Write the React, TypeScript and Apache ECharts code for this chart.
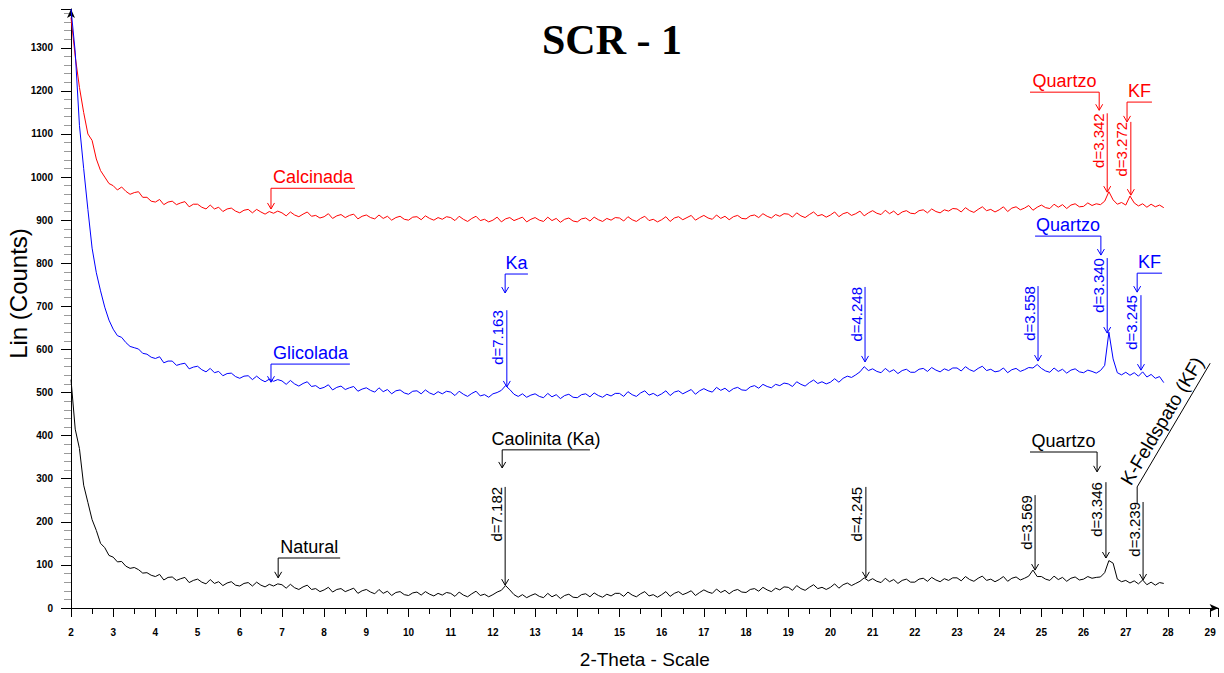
import React, { useEffect, useRef } from 'react';
import * as echarts from 'echarts';

// 2-Theta scan grid (degrees)
const THETA_START = 2.0;
const THETA_STEP = 0.1;

// Lin (Counts), one value per 0.1° from 2.0° to 27.9°
const calcinada = [
  1370, 1280, 1208, 1150, 1100, 1085, 1042, 1015, 1000, 985,
  980, 970, 977, 967, 960, 964, 966, 953, 953, 944,
  942, 948, 936, 942, 944, 936, 940, 943, 931, 937,
  937, 930, 926, 935, 926, 930, 920, 926, 928, 921,
  917, 923, 925, 917, 925, 919, 914, 920, 916, 921,
  917, 910, 919, 912, 908, 914, 919, 909, 911, 905,
  908, 915, 904, 910, 913, 906, 911, 914, 903, 909,
  912, 906, 903, 912, 904, 909, 900, 906, 909, 902,
  900, 907, 908, 901, 910, 904, 900, 906, 902, 908,
  906, 899, 909, 902, 897, 904, 909, 899, 902, 896,
  900, 907, 896, 903, 906, 899, 903, 907, 896, 902,
  906, 900, 897, 907, 899, 904, 895, 902, 905, 898,
  896, 903, 905, 898, 907, 901, 897, 904, 900, 906,
  905, 898, 908, 901, 897, 904, 909, 899, 902, 896,
  901, 908, 897, 905, 908, 901, 906, 911, 900, 906,
  911, 905, 902, 912, 904, 909, 901, 908, 911, 904,
  903, 910, 912, 906, 915, 909, 905, 913, 909, 915,
  914, 907, 917, 910, 906, 913, 919, 910, 913, 907,
  912, 919, 908, 915, 918, 911, 915, 921, 910, 917,
  922, 916, 913, 923, 915, 921, 912, 919, 922, 916,
  915, 922, 924, 917, 926, 920, 917, 924, 921, 927,
  926, 919, 929, 922, 918, 925, 931, 922, 925, 919,
  924, 931, 920, 928, 931, 924, 928, 934, 923, 930,
  935, 929, 927, 937, 930, 936, 927, 935, 938, 931,
  932, 940, 934, 938, 936, 944, 966, 947, 937, 941,
  935, 956, 940, 933, 938, 930, 937, 931, 935, 929,
];

const glicolada = [
  1390, 1290, 1120, 1020, 925, 835, 778, 736, 698, 668,
  647, 632, 628, 616, 607, 604, 601, 591, 589, 582,
  579, 583, 569, 573, 573, 563, 566, 568, 555, 559,
  561, 553, 548, 556, 546, 549, 539, 544, 545, 537,
  533, 538, 539, 530, 538, 530, 525, 531, 526, 530,
  527, 519, 528, 520, 515, 521, 525, 514, 516, 509,
  512, 518, 506, 512, 515, 507, 511, 514, 503, 508,
  511, 505, 501, 511, 502, 507, 497, 504, 506, 499,
  496, 503, 504, 497, 506, 499, 495, 502, 497, 503,
  501, 493, 503, 496, 491, 498, 503, 492, 495, 489,
  497, 500, 505, 516, 507, 496, 491, 497, 489, 494,
  497, 491, 488, 498, 490, 495, 486, 493, 496, 489,
  488, 495, 497, 490, 499, 493, 489, 496, 492, 498,
  498, 491, 502, 495, 491, 499, 504, 494, 498, 492,
  497, 504, 493, 501, 504, 497, 502, 507, 496, 504,
  509, 504, 501, 512, 505, 510, 502, 509, 512, 506,
  505, 513, 516, 510, 519, 514, 511, 519, 516, 522,
  520, 514, 525, 519, 515, 523, 529, 521, 525, 520,
  524, 532, 524, 533, 538, 535, 541, 548, 560, 551,
  555, 549, 546, 556, 548, 553, 544, 551, 554, 547,
  547, 554, 556, 549, 558, 552, 548, 555, 551, 557,
  557, 550, 560, 553, 549, 556, 561, 551, 554, 548,
  550, 557, 546, 553, 556, 549, 553, 558, 557, 565,
  556, 550, 547, 557, 549, 554, 545, 552, 555, 548,
  546, 552, 549, 545, 551, 563, 640, 578, 546, 541,
  547, 540, 546, 538, 548, 536, 542, 533, 537, 523,
];

const natural = [
  530, 415, 370, 285, 245, 205, 180, 150, 140, 122,
  118, 107, 108, 97, 92, 94, 89, 81, 82, 76,
  73, 78, 65, 71, 72, 64, 68, 71, 59, 64,
  67, 60, 56, 66, 57, 61, 52, 58, 61, 53,
  51, 57, 59, 51, 60, 53, 49, 55, 51, 56,
  54, 46, 55, 47, 43, 49, 53, 43, 45, 38,
  42, 48, 37, 43, 45, 38, 42, 46, 34, 40,
  43, 37, 33, 43, 34, 39, 29, 36, 38, 31,
  29, 35, 37, 30, 38, 32, 28, 34, 30, 36,
  34, 27, 37, 30, 26, 33, 39, 29, 32, 26,
  31, 37, 41, 52, 42, 31, 25, 31, 24, 29,
  33, 27, 24, 34, 26, 31, 22, 29, 32, 25,
  24, 31, 33, 26, 35, 29, 25, 32, 28, 34,
  34, 27, 37, 30, 26, 33, 38, 28, 31, 25,
  31, 38, 27, 34, 38, 31, 35, 40, 29, 36,
  42, 37, 34, 44, 36, 41, 33, 40, 43, 37,
  36, 43, 45, 39, 48, 42, 38, 46, 42, 49,
  48, 41, 52, 45, 41, 48, 54, 45, 48, 43,
  48, 56, 46, 54, 58, 52, 57, 62, 70, 63,
  68, 62, 59, 69, 61, 66, 57, 64, 67, 60,
  60, 67, 69, 62, 71, 65, 61, 68, 64, 70,
  70, 63, 73, 66, 62, 69, 74, 64, 67, 61,
  66, 73, 62, 69, 72, 65, 69, 74, 88, 73,
  73, 67, 64, 74, 66, 71, 62, 69, 72, 65,
  67, 73, 69, 71, 72, 82, 110, 104, 67, 61,
  64, 58, 63, 56, 65, 54, 60, 53, 59, 57,
];

const seriesNames = ['Calcinada', 'Glicolada', 'Natural'];
const seriesValues = [calcinada, glicolada, natural];
const seriesColors = ['#ff0000', '#0000ff', '#000000'];

// phase labels: [series, text, arrow 2θ, bracket level, arrow tip level, bracket end 2θ]
const phaseLabels: [number, string, number, number, number, number][] = [
  [0, 'Calcinada', 6.74, 974, 926, 8.73],
  [0, 'Quartzo', 26.37, 1197, 1155, 24.73],
  [0, 'KF', 27.03, 1174, 1128, 27.62],
  [1, 'Glicolada', 6.74, 566, 524, 8.61],
  [1, 'Ka', 12.29, 775, 731, 12.83],
  [1, 'Quartzo', 26.41, 863, 819, 24.85],
  [1, 'KF', 27.27, 777, 733, 27.86],
  [2, 'Natural', 6.91, 116, 70, 8.38],
  [2, 'Caolinita (Ka)', 12.22, 367, 325, 14.3],
  [2, 'Quartzo', 26.32, 362, 316, 24.73],
];

// d-spacing peak labels: [series, text, 2θ, line top level, arrow tip level]
const peakLabels: [number, string, number, number, number][] = [
  [0, 'd=3.342', 26.56, 1148, 965],
  [0, 'd=3.272', 27.12, 1128, 958],
  [1, 'd=7.163', 12.33, 691, 513],
  [1, 'd=4.248', 20.82, 745, 571],
  [1, 'd=3.558', 24.92, 747, 573],
  [1, 'd=3.340', 26.56, 812, 638],
  [1, 'd=3.245', 27.36, 726, 552],
  [2, 'd=7.182', 12.29, 281, 53],
  [2, 'd=4.245', 20.84, 281, 70],
  [2, 'd=3.569', 24.85, 262, 88],
  [2, 'd=3.346', 26.53, 292, 116],
  [2, 'd=3.239', 27.41, 246, 65],
];

// K-Feldspato leader: corner, far end, vertical drop end, text anchor
const feldspatoText = 'K-Feldspato (KF)';
const feldspatoCorner = [27.27, 281];
const feldspatoEnd = [29.0, 568];
const feldspatoDrop = [27.27, 243];
const feldspatoAnchor = [27.86, 434];

const Y_NAME = 'Lin (Counts)';

const X_MIN = 2;
const X_MAX = 29.2;
const Y_MAX = 1390;

const FONT = '"Liberation Sans", Arial, sans-serif';

export default function App() {
  const ref = useRef<HTMLDivElement>(null);

  useEffect(() => {
    if (!ref.current) return;
    const chart = echarts.init(ref.current, undefined, { renderer: 'svg' });

    const series = seriesValues.map((vals, s) => ({
      name: seriesNames[s],
      type: 'line',
      symbol: 'none',
      data: vals.map((v, i) => [+(THETA_START + i * THETA_STEP).toFixed(2), v]),
      lineStyle: { color: seriesColors[s], width: 1 },
      itemStyle: { color: seriesColors[s] },
      z: 2,
    }));

    chart.setOption({
      animation: false,
      backgroundColor: '#ffffff',
      title: {
        text: 'SCR - 1',
        left: 'center',
        top: 14,
        textStyle: { fontFamily: '"Liberation Serif", "Times New Roman", serif', fontWeight: 'bold', fontSize: 42, color: '#000' },
      },
      grid: { left: 71, right: 5.4, top: 9, bottom: 65, containLabel: false, outerBoundsMode: 'none' },
      xAxis: {
        type: 'value',
        min: X_MIN,
        max: X_MAX,
        interval: 1,
        name: '2-Theta - Scale',
        nameLocation: 'middle',
        nameGap: 42,
        nameTextStyle: { fontSize: 19, fontFamily: FONT, color: '#000' },
        axisLine: { onZero: false, symbol: ['none', 'arrow'], symbolSize: [6, 9], lineStyle: { color: '#000', width: 1 } },
        axisTick: { length: 9, lineStyle: { color: '#000' } },
        minorTick: { show: true, splitNumber: 2, length: 6, lineStyle: { color: '#000' } },
        axisLabel: {
          margin: 19, fontSize: 10, fontWeight: 'bold', color: '#000', fontFamily: FONT,
          showMaxLabel: false,
          formatter: (v: number) => (Number.isInteger(v) ? String(v) : ''),
        },
        splitLine: { show: false },
      },
      yAxis: {
        type: 'value',
        min: 0,
        max: Y_MAX,
        interval: 100,
        axisLine: { show: true, symbol: ['none', 'arrow'], symbolSize: [6, 9], lineStyle: { color: '#000', width: 1 } },
        axisTick: { show: true, length: 10, lineStyle: { color: '#000' } },
        minorTick: { show: true, splitNumber: 5, length: 7, lineStyle: { color: '#9a9a9a' } },
        axisLabel: {
          margin: 18, fontSize: 10, fontWeight: 'bold', color: '#000', fontFamily: FONT,
          showMaxLabel: false,
          formatter: (v: number) => (v % 100 === 0 ? String(v) : ''),
        },
        splitLine: { show: false },
      },
      series,
    });

    const px = (x: number, y: number) =>
      chart.convertToPixel({ xAxisIndex: 0, yAxisIndex: 0 }, [x, y]) as number[];

    const els: any[] = [];
    const line = (pts: number[][], color: string) => ({
      type: 'polyline',
      silent: true,
      z: 10,
      shape: { points: pts },
      style: { stroke: color, lineWidth: 1, fill: null },
    });
    const arrow = (tip: number[], color: string) =>
      line([[tip[0] - 3.5, tip[1] - 6], [tip[0], tip[1]], [tip[0] + 3.5, tip[1] - 6]], color);
    const text = (str: string, x: number, y: number, color: string, size: number, rot: number, align: string, valign: string) => ({
      type: 'text',
      silent: true,
      z: 10,
      x,
      y,
      rotation: rot,
      style: {
        text: str,
        fill: color,
        fontSize: size,
        fontFamily: FONT,
        align,
        verticalAlign: valign,
        textAlign: align,
        textVerticalAlign: valign,
      },
    });

    // y-axis title, centred along the value axis
    {
      const lo = px(X_MIN, 0);
      const hi = px(X_MIN, Y_MAX);
      els.push(text(Y_NAME, 18, (lo[1] + hi[1]) / 2 - 15, '#000', 24, Math.PI / 2, 'center', 'middle'));
    }

    phaseLabels.forEach(([s, str, ax, ly, ty, ex]) => {
      const c = seriesColors[s];
      const a = px(ax, ly);
      const e = px(ex, ly);
      const t = px(ax, ty);
      els.push(line([e, a, t], c));
      els.push(arrow(t, c));
      els.push(text(str, (a[0] + e[0]) / 2, a[1] - 2, c, 18, 0, 'center', 'bottom'));
    });

    peakLabels.forEach(([s, str, x, top, tip]) => {
      const c = seriesColors[s];
      const a = px(x, top);
      const t = px(x, tip);
      els.push(line([a, t], c));
      els.push(arrow(t, c));
      els.push(text(str, a[0] - 9, a[1], c, 15, Math.PI / 2, 'right', 'middle'));
    });

    {
      const c = seriesColors[2];
      const corner = px(feldspatoCorner[0], feldspatoCorner[1]);
      const end = px(feldspatoEnd[0], feldspatoEnd[1]);
      const drop = px(feldspatoDrop[0], feldspatoDrop[1]);
      const anchor = px(feldspatoAnchor[0], feldspatoAnchor[1]);
      const ang = Math.atan2(corner[1] - end[1], end[0] - corner[0]);
      els.push(line([end, corner, drop], c));
      els.push(text(feldspatoText, anchor[0], anchor[1], c, 19, ang, 'center', 'middle'));
    }

    chart.setOption({ graphic: { elements: els } });

    return () => chart.dispose();
  }, []);

  return (
    <div
      ref={ref}
      style={{ position: 'fixed', left: 0, top: 0, width: 1224, height: 673, background: '#fff' }}
    />
  );
}
